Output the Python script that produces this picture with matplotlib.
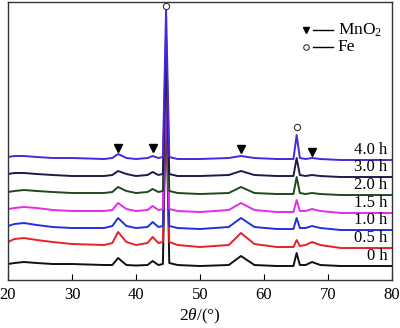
import matplotlib
matplotlib.use("Agg")
import matplotlib.pyplot as plt

plt.rcParams['font.family'] = ['Liberation Serif', 'DejaVu Serif']
plt.rcParams['mathtext.fontset'] = 'custom'
plt.rcParams['mathtext.rm'] = 'Liberation Serif'
plt.rcParams['mathtext.it'] = 'Liberation Serif:italic'

# 2theta key points (degrees)
two_theta = [20, 21, 22.5, 24.5, 27, 30, 35, 36.3, 37.2, 38.5, 40, 41.8, 42.6, 43.5,
             44.2, 44.7, 45.2, 46.5, 50, 54.5, 56.4, 58.5, 62, 64.6, 65.1, 65.6,
             66.5, 67.5, 68.8, 72, 80]

# intensities (arbitrary units, offset stacked)
i_0h = [16, 17, 18, 17, 16, 16, 15, 15, 22, 15, 14.5, 15, 19, 15, 16, 180, 17, 15, 14,
        15, 24, 15, 14, 14, 27, 15, 15, 18, 15, 14, 14]
i_05h = [38, 41, 42, 40, 38, 36, 35, 37, 48, 38, 35, 37, 43, 37, 38, 190, 38, 35, 33,
         35, 47, 36, 33, 33, 40, 34, 35, 38, 35, 32, 32]
i_10h = [54, 56, 57, 55, 53, 52, 52, 54, 62, 54, 52, 53, 58, 53, 54, 205, 54, 52, 51,
         53, 62, 53, 51, 51, 62, 52, 52, 54, 52, 50, 50]
i_15h = [71, 72, 73, 72, 70, 69, 69, 70, 77, 71, 69, 70, 74, 70, 71, 215, 71, 69, 68,
         70, 77, 70, 68, 68, 80, 69, 69, 71, 69, 67, 67]
i_20h = [88, 89, 90, 89, 88, 87, 87, 88, 93, 89, 87, 88, 91, 88, 89, 230, 89, 87, 86,
         87, 93, 87, 86, 86, 103, 87, 86, 87, 86, 85, 85]
i_30h = [106, 107, 107, 106, 105, 104, 104, 105, 109, 106, 104, 105, 108, 105, 106, 245,
         106, 104, 104, 105, 109, 105, 104, 104, 122, 105, 104, 105, 104, 103, 103]
i_40h = [123, 124, 124, 123, 122, 122, 121, 122, 126, 122, 121, 122, 124, 122, 123, 271,
         123, 121, 121, 122, 124, 122, 121, 121, 145, 122, 121, 122, 121, 120, 120]

series = [i_0h, i_05h, i_10h, i_15h, i_20h, i_30h, i_40h]
labels = ['0 h', '0.5 h', '1.0 h', '1.5 h', '2.0 h', '3.0 h', '4.0 h']
baselines = [14, 32, 50, 67, 85, 103, 120]
colors = ['#111111', '#e8202a', '#2230e0', '#e62ae6', '#1d4a1d', '#1c1c4c', '#4a26dc']

mno2_pos = [37.2, 42.6, 56.4, 67.5]
mno2_y = [132, 132, 131, 128]
fe_pos = [44.7, 65.1]
fe_y = [274, 153]

fig = plt.figure(figsize=(4.0, 3.28), dpi=100)
ax = fig.add_axes([0.02, 0.1463, 0.96, 0.8476])

for y, c in zip(series, colors):
    ax.plot(two_theta, y, color=c, lw=1.4, solid_joinstyle='round')

for lab, b in zip(labels, baselines):
    ax.text(79.3, b + 2.5, lab, ha='right', va='bottom', fontsize=12)

ax.plot(mno2_pos, mno2_y, ls='none', marker='v', ms=5.5, color='black')
ax.plot(fe_pos, fe_y, ls='none', marker='o', ms=4.5, mfc='white', mec='#333333', mew=0.8)

# legend (manual)
ax.plot([66.6], [250], marker='v', ms=4.5, color='black', ls='none')
ax.plot([67.7, 70.8], [250, 250], color='black', lw=1.0)
ax.text(71.5, 250, 'MnO$_2$', va='center', ha='left', fontsize=12.5)
ax.plot([66.6], [233], marker='o', ms=4, mfc='white', mec='#333333', mew=0.8, ls='none')
ax.plot([67.7, 70.8], [233, 233], color='black', lw=1.0)
ax.text(71.5, 233, 'Fe', va='center', ha='left', fontsize=12.5)

ax.set_xlim(20, 80)
ax.set_ylim(0, 278)
ax.set_xticks([20, 30, 40, 50, 60, 70, 80])
ax.set_yticks([])
ax.tick_params(axis='x', direction='in', length=4, width=0.8, labelsize=12, pad=5)
for s in ax.spines.values():
    s.set_linewidth(1.0)
    s.set_color('#333333')
ax.set_xlabel(r'$\mathit{2\theta}$/(°)', fontsize=12.5, labelpad=3)

fig.savefig('out.png', dpi=100)
